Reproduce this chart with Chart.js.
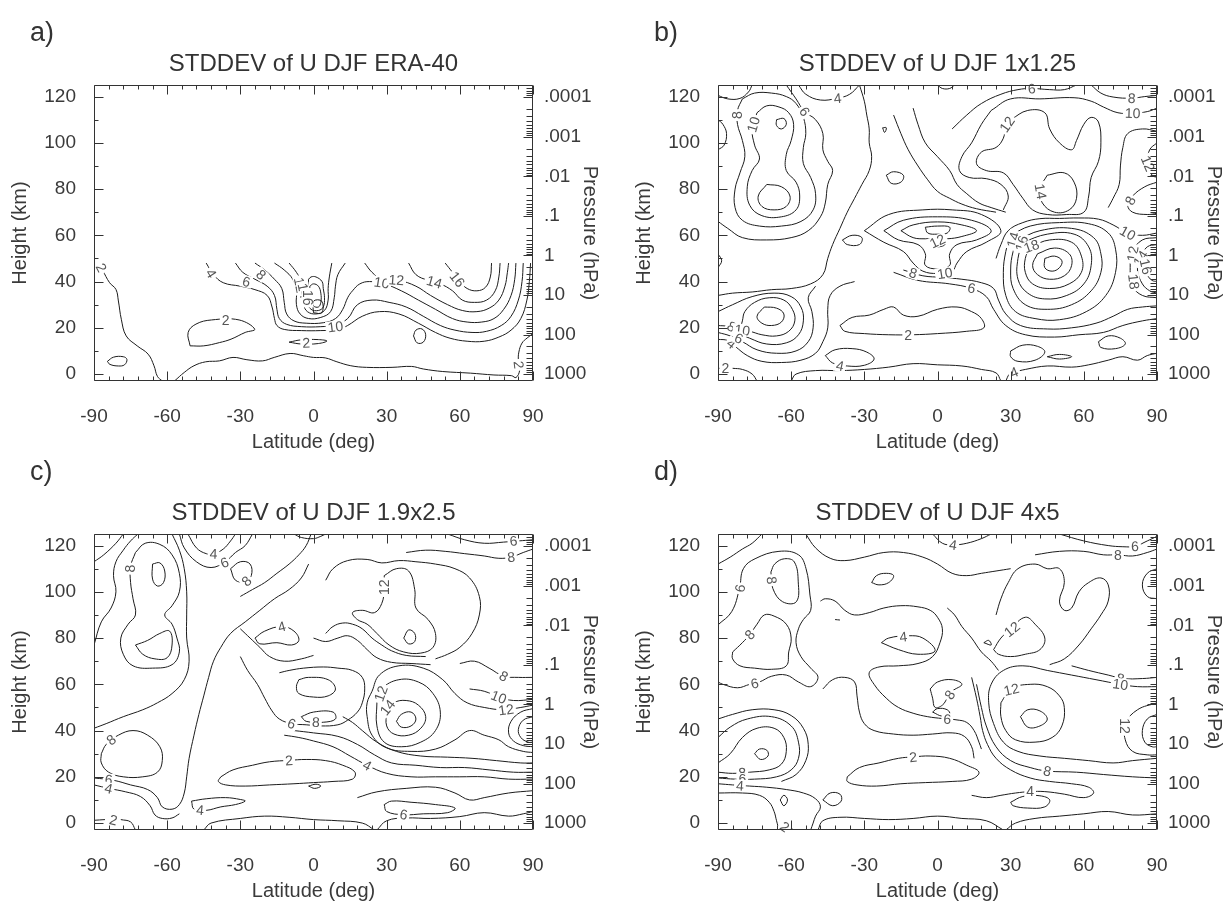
<!DOCTYPE html>
<html>
<head>
<meta charset="utf-8">
<script src="https://cdn.jsdelivr.net/npm/chart.js@4.4.1/dist/chart.umd.min.js"></script>
<style>
  body { margin: 0; background: #fff; width: 1228px; height: 901px; position: relative; overflow: hidden;
         font-family: "Liberation Sans", Arial, sans-serif; color: #333; }
  .panel { position: absolute; width: 604px; height: 458px; }
  .panel canvas { position: absolute; left: 0; top: 0; }
  .tag { position: absolute; left: 30px; top: 17px; font-size: 27px; line-height: 30px; }
  .low .tag { top: 7px; }
  .ttl { position: absolute; left: 94px; width: 439px; top: 49px; font-size: 24px; line-height: 28px; text-align: center; }
</style>
</head>
<body>
<div id="pa" class="panel" style="left:0;top:0"><canvas id="ca" width="604" height="458"></canvas></div>
<div id="pb" class="panel" style="left:624px;top:0"><canvas id="cb" width="604" height="458"></canvas></div>
<div id="pc" class="panel low" style="left:0;top:449px"><canvas id="cc" width="604" height="458"></canvas></div>
<div id="pd" class="panel low" style="left:624px;top:449px"><canvas id="cd" width="604" height="458"></canvas></div>
<script>
// Axis values
const latTicks = [-90, -60, -30, 0, 30, 60, 90];
const heightTicks = [0, 20, 40, 60, 80, 100, 120];
const pressureLevels = [1000, 100, 10, 1, 0.1, 0.01, 0.001, 0.0001];
const pressureLabels = ['1000', '100', '10', '1', '.1', '.01', '.001', '.0001'];
const panelTags = ['a)', 'b)', 'c)', 'd)'];
const panelTitles = ['STDDEV of U DJF ERA-40', 'STDDEV of U DJF 1x1.25', 'STDDEV of U DJF 1.9x2.5', 'STDDEV of U DJF 4x5'];

// Contour lines, flat [lat, km, lat, km, ...]
const aLines = [
  [-88,48, -86.5,45, -83.6,39.5, -81,36.6, -80,31.6, -78.8,23.7, -76.8,16.5, -72.3,12.2, -67.8,8.6, -65.4,3.6, -64,-1, -62,-3],
  [-57,-3, -53,0.7, -49,3.6, -44.2,5.3, -38.6,5.7, -33,7.2, -27.3,6.2, -20.9,5.7, -16.1,7.2, -9.6,8.9, -4,7.9, 0,7.2, 4.8,7, 9.6,5.3, 15.3,3.6, 21.7,2.9, 32.2,2.9, 40.2,3.3, 45,2.2, 53,1.1, 64.3,0.4, 74,-0.4, 81.2,-0.7, 83,-1.5, 84.5,1.5, 84,6, 84.2,9.5, 85.5,13.4, 87.6,15.6, 90,17.5],
  [-84.5,5.5, -82,7.3, -78,7.5, -76.5,6.3, -77.5,4, -80,3.5, -83.5,4.2, -84.5,5.5],
  [-50.6,12.2, -51.4,18, -48.2,21.6, -41.8,23.4, -30.5,23.4, -24.1,19.4, -28,18, -33.8,15.1, -38.6,13.6, -45,12.2, -50.6,12.2],
  [-10,13.8, -5,14.8, 2,14.9, 5.5,14.3, 2,13.2, -5,13, -10,13.8],
  [41,16.5, 42,19, 44.5,19.5, 46,17, 45,13.8, 42.5,13.5, 41,16.5],
  [-44,48, -41,43, -37,39.5, -30,38, -24,36.5, -19,34, -17,29, -16,24, -15,21, -12,19.3, -5,18.8, 3,18.8, 10,19.3, 14,21, 20,25, 27,27, 35,26, 43,22, 50,18, 56,15.5, 63,14.2, 70,14.2, 76,16, 81,19, 85,24, 87.5,32, 88.5,40, 89,48],
  [-32,48, -29,44, -24,41, -19,38, -16,34, -15,28, -14,24, -11,21.5, -5,20.5, 3,20.5, 9,21.3, 14,24, 18,30, 24,32, 31,31, 38,29, 45,25, 52,21, 58,19, 65,18, 71,18.5, 77,21, 81,25, 84,32, 85.5,40, 86,48],
  [-24,48, -20,45, -16,41, -13,37, -12,31, -11,26, -8,23, -3,22, 4,22.2, 9,24, 12,28, 14,33, 16,36, 19,39, 23,40, 29,39, 36,36, 43,32, 50,28, 57,24, 63,22.5, 69,22.5, 74,24, 78,28, 81,34, 82.5,41, 83,48],
  [21,48, 24,44, 28,41, 35,40.5, 42,38, 48,34, 55,30, 61,27.5, 67,27, 72,28.5, 76,32, 78.5,38, 79.5,44, 80,48],
  [39,48, 42,43, 47,40.5, 52,39, 57,36, 61,32, 66,31, 71,32, 74.5,36, 76,42, 76.5,48],
  [54,48, 57,44, 60,40, 63,37, 67,36, 70.5,37.5, 72.5,42, 73,48],
  [-16,48, -12,45, -8.5,41, -7,36, -7,30, -5.5,26, -2,24, 3,24.5, 7,27, 8.5,33, 9,38, 10,43, 13,48],
  [-10,48, -7,44, -5,40, -4,35, -4,30, -2.5,27, 1,26, 4.5,27.5, 6,32, 6,37, 6.5,42, 7.5,48],
  [-2,41, -2.5,36, -2.5,31, -1,28, 2,27.5, 4,29, 4.5,33, 4,37, 3.5,40, 1,42, -1,42, -2,41],
  [-1.5,38, -1.5,33, 0,29.5, 2,29, 3,31, 3,35, 2,38, 0,39, -1.5,38],
  [0,26.5, 3.4,26.5, 3.4,31.5, 0,31.5, 0,26.5]
];
const aLabels = [
  [-87,46,'2'], [-42,43.5,'4'], [-27.5,40,'6'], [-21.5,43,'8'], [-5.5,38.5,'12'], [-4,36,'14'],
  [-2.5,33,'16'], [9,20.5,'10'], [-3,13.5,'2'], [-36,23.4,'2'], [28,39.5,'10'], [34,40.7,'12'],
  [49.5,39.8,'14'], [59,41,'16'], [84.2,4,'2']
];

const bLines = [
  [-90,120.5, -86,119, -81,119.2, -77.5,122, -76,125],
  [-57,125, -54,121, -48,118.5, -41,119.3, -36,121, -32,125],
  [-70,82, -64,81, -60.5,77, -62,72.5, -67,71, -72,72.5, -73.5,77, -70,82],
  [-66,110, -63,110.5, -62,108, -64,106, -66,107.5, -66,110],
  [-74,113, -76,106, -75,99, -73,93, -76,88, -78,81, -77,73, -72,68.5, -64,68, -58,71, -56.5,77, -58,83, -62,88, -62,95, -60,101, -59,108, -61,113, -65,115.5, -70,116, -74,113],
  [-80,119, -75,121.5, -68,121.5, -62,120, -58,117, -55,111, -54,104, -55,98, -55,91, -52,85, -50,78, -51,71, -56,66, -64,64, -73,64, -80,66.5, -83,72, -83,80, -81,87, -79,94, -80,101, -82,108, -82,114, -80,119],
  [-62,125, -58,119, -54.5,113.5, -50,110, -47,104, -47,97, -45,92, -43,88, -45,82, -46,74, -48,68, -53,62, -60,59, -70,58, -80,59, -86,63, -90,66],
  [-90,97, -87.5,99, -86.5,104, -88,108, -90,110],
  [-32,125, -30,118, -29,112, -28,106, -28,100, -27,94, -28,88, -31,82, -34,76, -37,70, -40,63, -43,56, -45,50, -47,43, -52,39, -60,37, -68,36.5, -76,35.5, -84,35, -90,34],
  [-71,29, -66,28.5, -63,26, -64,22.5, -68,21, -72,22, -74,25, -71,29],
  [-81,19, -77,18.5, -72,17, -66,16.5, -61,18.5, -58.5,23, -59.5,28, -63,32, -69,33, -75,31, -79,27, -80,23, -81,19],
  [-90,21, -86,20.5, -82,18, -77,15.5, -70,13, -62,13.5, -57,17, -55,23, -56,29, -60,33.5, -67,35, -76,33.5, -84,30, -90,27],
  [-90,18, -85,16.5, -80,14, -74,10.5, -66,9, -58,10, -53,14, -51,20, -51.5,27, -53,33, -50,38],
  [-90,15, -86,14.5, -83,12, -78,8, -72,5.5, -64,5, -56,6, -50,9, -47,14, -45,20, -45,28, -44,34, -40,38, -34,40],
  [-90,2.5, -88,2.5],
  [-84,2.5, -80,2, -76,0, -74,-3],
  [-40,21, -35,24.5, -28,25.5, -22,28, -18,29, -14,25.5, -8,25, 0,28, 8,29, 14,27, 18,24, 19,20, 12,18.5, 0,17.5, -10,17, -20,17, -30,17.5, -38,18.5, -40,21],
  [-46,8, -42,10.5, -35,11, -29,9.5, -26,6.5, -30,3.8, -37,3.5, -43,4.8, -46,8],
  [-60,-3, -58,0, -50,1.5, -40,1.5, -30,2, -20,3, -10,4.5, 0,4, 10,3.5, 18,2, 24,0.5, 26,-3],
  [28,-3, 29.5,0, 31.4,0.8, 36,2, 45,3.5, 55,3, 62,4, 70,6, 76,7.5, 82,6, 86,8, 90,9],
  [30,10, 35,12.5, 41,12, 44,9.5, 40,6, 33,5.5, 30,7.5, 30,10],
  [45,7.5, 50,8.5, 55,7.5, 50,6.5, 45,7.5],
  [66,14, 70,16.5, 75,15.5, 77,13, 73,11, 67,11.5, 66,14],
  [44,50, 48,51, 51,49, 50,46, 47,44.5, 44,46, 44,50],
  [41,52, 48,54.5, 54,52, 55,47, 52,42.5, 46,41, 41,43, 39,47, 41,52],
  [38,55, 46,58, 55,57, 59,51, 59,44, 54,39, 46,37, 39,39, 36,44, 36,50, 38,55],
  [35,57, 45,60.5, 56,60.5, 62,55, 63,47, 60,39, 53,34, 44,32.5, 37,35, 33,41, 33,50, 35,57],
  [33,58, 42,62, 55,63, 64,59, 67,52, 67,44, 63,36, 55,30, 45,28, 36,30, 31,37, 30,45, 31,53, 33,58],
  [30,60, 38,64, 50,65.5, 62,65, 70,61, 73,54, 73,44, 69,34, 61,27, 50,23.5, 40,24, 32,27, 28,34, 27,44, 28,53, 30,60],
  [-14,45, -6,42.5, 2,41.8, 10,41, 18,39.5, 23,37, 25,32, 28,26, 34,21, 45,19.5, 55,20, 65,22, 72,25, 78,28, 84,29, 90,29.5],
  [-18,44, -8,40.5, 5,39, 14,37, 20,33.5, 23,28, 28,21, 36,17, 48,16, 58,17, 68,18, 76,21, 84,23, 90,24],
  [24,50, 26,56, 29,62, 35,65.5, 42,67.2, 50,67.3, 58,67.5, 66,67, 72,64.5, 78,61, 84,60, 90,61],
  [90,52, 87,51, 85,47.5, 86,43, 88,40.5, 90,40],
  [90,56, 86,55, 83,50, 82,45, 84,39, 87,36, 90,35],
  [90,59, 84,58, 80,53, 79,46, 80,38, 84,34, 90,33],
  [45,86, 42,80, 43,74, 48,70, 54,71, 57,76, 56,83, 52,87, 45,86],
  [30,110, 37,114, 44,113, 46,106, 50,100, 55,97, 57,101, 60,108, 63,111, 66,109, 67,100, 66,92, 63,85, 62,77, 60,70, 53,69, 45,69, 39,71, 35,76, 31,82, 27,87, 20,88, 16,91, 18,96, 24,98, 27,102, 28,107, 30,110],
  [22,114, 30,119, 42,119, 56,119.5, 63,118, 68,115.5, 74,113, 80,112.8, 86,113.5, 90,115],
  [22,114, 18,108, 14,100, 10,94, 9,88, 13,85, 20,84.5, 26,82, 29,77, 27,71],
  [90,105, 84,106, 78,104, 76,98, 75,90, 74.5,82, 72,76, 70,72],
  [90,100, 87,97, 86,91, 88,86, 90,85],
  [90,83, 85,81, 80,77, 78,73, 80,70, 86,69, 90,69.5],
  [6,106, 12,112, 18,117, 26,121, 33,123, 38.6,123.5, 46,123, 52,123, 57,125],
  [63,125, 67,121.5, 72,119.8, 79.6,119.3, 85,120, 90,120.5],
  [-5,63.5, 0,64, 5,63.5, 4,61, 0,60.5, -4,61, -5,63.5],
  [-3,56, 0,57.5, 3,56, 0,55, -3,56],
  [-15,62, -10,64.5, 0,65.8, 10,64.5, 16,62, 10,59.5, 4,58.5, 0,58.8, -5,58.5, -10,59, -15,62],
  [-22,62, -14,66.5, 0,68, 14,66.5, 22,62, 16,58, 8,56, 5,52, 5,47, 0,45.5, -5,47, -5,52, -8,56, -16,58, -22,62],
  [-30,62, -20,69, -6,71, 6,71, 18,69, 26,62, 20,57, 12,53, 8,48, 6,44.5, 0,43.5, -6,44.5, -10,48, -14,53, -22,57, -30,62],
  [0,125, 2,123.5, 5,123.5, 7,125],
  [-21,86, -18,87.5, -14,86, -15,83, -19,82.5, -21,86],
  [-39,58, -35,60, -31,59, -32,56, -37,56, -39,58],
  [-22.5,106.5, -21,106.5, -21.7,104.5, -22.5,106.5],
  [-10,115, -8,108, -5,100, 0,94, 5,88, 8,82, 12,78, 17,74, 22,72, 28,70],
  [-18,112, -15,104, -12,97, -8,90, -4,84, 0,79, 5,76, 10,73.5, 16,71.5, 24,70],
  [-90,52, -88.5,49, -90,46]
];
const bLabels = [
  [-87,2.5,'2'], [-84.4,20.5,'8'], [-80,19,'10'], [-84.4,13.2,'4'], [-81.5,15.5,'6'],
  [-41,119.3,'4'], [-54.5,113.5,'6'], [-82,112,'8'], [-75.5,108,'10'], [-12,17,'2'], [-40,3.6,'4'],
  [0,57.5,'12'], [-10,43.7,'8'], [3,43.6,'10'], [14,37.2,'6'], [31,58,'14'], [34.5,56.5,'16'], [38.5,55.3,'18'],
  [28.5,108,'12'], [42.3,79,'14'], [38.6,123.5,'6'], [79.6,119.3,'8'], [80,112.8,'10'], [86.3,91,'12'],
  [79,75,'8'], [78,61,'10'], [80,52,'12'], [83.3,50,'14'], [85.5,46.5,'16'], [80.5,40,'18'], [31.4,0.8,'4']
];

const cLines = [
  [-90,113, -86,116, -81,121, -78,125],
  [-66,112, -63,112.5, -61,109, -61.5,104, -64,102.5, -66,105.5, -66,112],
  [-73,77, -68,79, -63,82, -59,83, -58,77, -60,71.5, -65,71, -70,73, -73,77],
  [-73,117, -69,121, -63,120.5, -58,116, -55,108, -55,100, -58,94, -61,90, -58,86, -56,80, -55,74, -58,68.5, -66,67, -74,68, -78,73, -79,80, -76,86, -73,90, -74,97, -75,104, -75,111, -73,117],
  [-90,77, -87,87, -83,93, -81,100, -82,107, -81,113, -78,118, -75,122, -72,125],
  [-58,125, -55,118, -53,110, -52,100, -52,90, -52,80, -51,70, -53,62, -58,56, -64,52, -70,49, -78,46, -85,43, -90,41],
  [-55,125, -53,119, -48,113, -42,110.5, -36.2,113, -32,117, -28,120, -25,125],
  [-51.5,125, -48,119, -44,116.5, -41,116.4, -37,118.5, -34,122, -32,125],
  [-34,110, -30,113, -26,112, -25.5,107, -28,104.5, -32,105, -34,110],
  [-30,98, -25,101, -20,104, -15,108, -10,112, -6,116, -3,120, -1,125],
  [-2,112, -5,106, -10,101, -16,97, -22,92, -28,87, -34,82, -38,76, -41,70, -43,63, -45,55, -47,47, -49,38, -51,28, -52,20, -53,13, -55,8, -58,6, -62,7, -64,11, -68,14.5, -75,16.5, -82,18.5, -90,19.5],
  [-90,16.5, -84,15, -77,13.5, -71,11.5, -67,7.5, -65,3.5, -62,2, -58,2.2, -55,4],
  [-87,30, -85,34, -80,38, -74,40, -68,38, -63,33, -62,27, -64,22, -70,20, -78,20, -84,22, -87,26, -87,30],
  [-90,1.2, -85.5,1.5],
  [-79,1.5, -75,0.5, -73,-3],
  [-38,20, -33,23, -25,25, -18,26.5, -10,27.1, -3,27.5, 5,27, 12,25, 17,22, 16,19, 8,18, 0,17.5, -8,17, -18,16.5, -28,16, -36,16.5, -39,18, -38,20],
  [-2,16, 1,16.8, 3,16, 0.5,15, -2,16],
  [-50,9.5, -44,10.5, -36,11, -30,10.2, -28,9.5, -32,8, -38,7, -44,5.5, -49,6, -50,9.5],
  [-45,-3, -42,0, -30,2, -20,3, -10,2.5, 0,1.5, 10,1, 20,0, 25,-3],
  [29,8, 32,9.5, 40,9, 50,8, 58,6.5, 55,4.5, 45,4, 37,3.6, 30,5, 29,8],
  [26,-3, 30,1, 38,2.2, 48,2, 60,2.8, 70,4.5, 80,3, 86,4, 90,5],
  [18,11, 26,13.5, 38,15, 50,15.5, 58,13, 64,10, 70,11, 80,13, 90,14],
  [-12,38, -6,37, 0,35.5, 8,33, 15,29, 22,25, 30,21.5, 40,20, 50,20, 60,20, 70,20, 80,19, 90,19],
  [-8,40, 0,39, 10,37.5, 18,34, 25,29.5, 32,26, 42,25, 52,24, 62,24, 72,23, 82,22, 90,22],
  [12,46, 16,43.5, 20,40, 26,35, 34,31, 44,29, 55,28.5, 65,28, 75,27, 85,26, 90,26],
  [34,44, 36,47, 40,48, 42,45, 40,42, 36,41.5, 34,44],
  [30,48, 33,52, 38,53, 43,51, 46,46, 44,41, 39,38, 33,38.5, 30,42, 30,48],
  [26,52, 28,58, 35,62, 43,61, 49,56, 52,48, 50,40, 44,35, 36,33, 29,35, 26,42, 26,52],
  [90,30.5, 86,31, 80,33, 76,36, 70,38, 64,40, 58,36, 50,32, 40,31, 30,32.5, 24,38, 22,46, 22,52, 24,57, 27,64, 35,68, 45,67, 53,62, 58,56, 63,52, 70,50, 78,49, 85,50, 90,51],
  [90,46, 86,44.5, 84,40.5, 85,37, 88,35, 90,35],
  [90,49.5, 85,48, 81,44, 80,39, 82,35.5, 86,33.5, 90,33],
  [60,69, 66,70, 72,67, 78,63.5, 84,63, 90,63],
  [64,58, 70,57, 76,54.5, 82,53, 90,53.5],
  [29,107, 34,110, 39,109, 41.5,101, 42,93, 47,88, 50,82, 49,76, 44,73.5, 37,74, 31,77, 26,82, 22,86, 18,88, 16,91, 20,92, 25,91, 28,95, 29,101, 29,107],
  [37,80, 39,83.5, 41.5,82, 41.5,78.5, 39,77.5, 37,80],
  [5,105, 8,110, 14,113.5, 22,114, 28,112.5, 35,113.5, 42,113, 50,112, 58,110, 64,106, 68,98, 68,90, 65,82, 60,76, 55,73, 50,71],
  [5,82, 8,85, 12,86.5, 16,86, 20,84, 24,80, 28,77, 32,74.5, 38,72.5, 46,72],
  [0,80, 5,78.5, 10,80, 14,81, 18,79, 22,75, 26,71.5, 32,69.5, 40,69, 48,68.5],
  [55,125, 62,122.5, 70,121, 78,121.5, 84,122, 90,122.5],
  [38,117, 46,118, 54,117.5, 62,116.5, 70,115.5, 76,114.5, 81,115, 86,117, 90,118.5],
  [-8,125, -5,123.5, 0,123, 3,124, 5,125],
  [-24,80, -20,83, -13,85, -8,83, -6,79, -9,77, -15,78, -22,77.5, -24,80],
  [-6,62, -2,63, 6,62, 9,58, 6,55, 0,54.5, -6,56, -7,59, -6,62],
  [-5,46, 0,48, 8,48, 9,45, 4,43.6, -3,44, -5,46],
  [-30,72, -27,66, -23,60, -20,54, -17,48.5, -14,45, -9,43, -3,42.5, 3,42, 10,42.5, 14,44.5, 18,48, 20,52, 21,58, 20,63, 16,66, 10,67, 4,67.5, -4,67, -10,66, -14,65],
  [-30,84, -26,80, -22,76, -18,72, -12,70, -5,71, 0,72.5]
];
const cLabels = [
  [-82,1.4,'2'], [-46.5,5.6,'4'], [-10,27.1,'2'], [-84,18.8,'6'], [-84,15,'4'], [-83,36,'8'],
  [-75.2,110,'8'], [-41,116.4,'4'], [-36.5,112.7,'6'], [-27.5,104.7,'8'], [-13,85,'4'], [-9,43,'6'],
  [1,43.7,'8'], [22,25,'4'], [37,3.7,'6'], [27.6,56,'12'], [30.3,50,'14'], [29,102,'12'],
  [78,63.5,'8'], [76,54.5,'10'], [79,49,'12'], [82,122,'6'], [81,115,'8']
];

const dLines = [
  [-90,112, -85,115, -80,118.5, -76,121, -72,125],
  [-68.3,108.6, -67.5,101.4, -63.5,95.7, -57.9,95.7, -57.1,104.3, -58.7,112.9, -62.7,114.3, -66.7,112.1, -68.3,108.6],
  [-90,85.7, -84.4,91.4, -81.2,101.4, -79.6,110, -74.8,114.3, -65,117.5, -57,116, -53.9,110, -52.3,98.6, -52,92, -55,88, -57,84, -58,78, -56,72, -52,67, -49,63, -52,59, -57,61, -62,64, -68,63.5, -73,61, -77,60, -82,58.5, -88,60, -90,61],
  [-84,74, -80,78, -77,81.5, -74,86, -71,90, -67,89.5, -62,86, -60,80, -61,74, -62,68, -68,66.5, -75,67, -81,68, -84,71, -84,74],
  [-75,30, -73,32, -70,31.5, -69.5,29, -72.5,27.5, -75,30],
  [-90,26, -85,30, -80,37, -74,41, -67,41, -63,37, -62,31, -64,25.5, -69,23, -77,22, -84,21.5, -90,22],
  [-90,37, -85,41.5, -78,45, -68,46, -60,42, -57,35, -57,28, -60,23, -66,20, -75,19, -83,19, -90,19.5],
  [-90,17, -84,16.5, -77,16, -70,15.5, -62,14.5, -55,13, -50,10.5, -48,7, -50,3, -51,0, -52,-3],
  [-90,45, -84,47, -76,49, -67,49, -60,46.5, -55,41, -53,34, -54,27, -58,21, -64,18],
  [-90,13, -80,13, -73,12, -69,9, -67,5, -66,1, -65,-3],
  [-64.5,10, -63,12, -61.5,10, -63,7.5, -64.5,10],
  [-66,-3, -64.3,-1.5],
  [-61,-1.5, -59,-3],
  [-47,10, -44,13, -40,12.5, -39.5,9.5, -43,7.5, -47,10],
  [-49,-3, -47,1, -40,2.5, -30,2, -20,1.5, -10,2, 0,3, 10,2, 20,1, 27,-3],
  [-37,20, -32,24, -24,26, -16,28, -10,28.6, -3,29, 5,28, 12,25, 17,22, 14,19, 6,18, -5,17.5, -15,17, -25,16, -33,16.5, -37,18, -37,20],
  [-2,125, 2,121, 6.4,120.3, 12,121, 18,123, 22,125],
  [-54,125, -50,119, -44,114.5, -38,113.5, -30,115, -22,117, -14,117, -6,115, 0,112, 6,108, 12,107, 18,108, 24,109, 30,110],
  [-27,104, -25,107, -21,108, -18,107, -20,104, -24,103, -27,104],
  [-42,88, -40,87.8],
  [-23,78, -20,80, -12,81, -6,80, -1,74.5, -8,73, -16,75, -23,78],
  [-48,96, -46,97, -42,96, -38,92, -34,90, -28,91, -22,93, -15,94, -8,93.5, -3,92, 0,89, 2,84, 1,78, -2,72, -8,69, -16,68, -24,67.5, -28,65, -26,60, -21,54, -16,50, -10,47.5, -4,46, 2,45.2, 8,44.6, 12,43.5, 15,40, 17,35, 18,32],
  [-47,58, -43,62, -38,63, -34,61, -33,55, -32,48, -30,43, -26,40, -18,38.5, -10,38, -2,38.5, 6,39, 11,37.5, 14,33, 15,28],
  [-3,58, 0,61, 6,62, 10,60, 6,57, 4,54, 2,51, -1,50, -2,54, -3,58],
  [-2,48, 0,49.5, 4,49, 5,47, 2,46.2, -2,48],
  [34,46, 37,49, 42,48.5, 45,45, 42,42, 37,41.5, 34,46],
  [26,52, 30,58, 38,60, 45,59, 50,55, 52,50, 51,42, 47,37, 40,35, 32,36, 28,40, 26,46, 26,52],
  [90,59, 82,59, 75,60, 65,62, 55,64, 45,66, 35,68, 27,66, 22,60, 21,52, 23,43, 27,35, 33,31, 42,29, 52,28, 62,27, 72,26, 80,27, 90,28],
  [16,60, 18,50, 20,42, 24,33, 30,27, 38,24, 45,22.5, 57,22, 68,21, 80,20, 90,19.5],
  [14,63, 16,54, 17.5,46, 18.5,40, 20.5,34, 24,28, 30,23, 38,19.5, 46,18, 55,17, 62,15.5, 64,13, 60,11, 52,12.5, 44,13.6, 38,13.6, 32,13, 26,12, 20,11, 14,12],
  [30,9, 35,11.5, 42,11.8, 46,10, 44,7, 37,6.5, 31,7.5, 30,9],
  [28,-3, 32,0, 40,2, 50,3, 60,4, 70,5, 80,3.5, 90,4],
  [90,47, 86,45, 84,40, 85,35, 88,33, 90,33],
  [90,52, 82,49, 77,43, 77,36, 80,31, 86,29.5, 90,29.5],
  [55,68, 62,66, 70,64, 76,62.5, 84,62.5, 90,63],
  [23,75, 26,80, 30,84, 36,89, 40,86, 44,80, 42,75, 36,73, 30,72, 25,73, 23,75],
  [19,78, 21,79, 22,77, 19,78],
  [24,90, 26,97, 29,104, 33,110, 40,112, 45,110, 50,110, 52,104, 50,96, 52,92, 55,93, 58,100, 62,104, 67,106, 70,103, 70,96, 67,90, 63,84, 58,77, 52,71, 46,68.5],
  [4,93, 7,90, 10,85, 14,80, 18,74, 22,70, 25,66],
  [50,125, 60,122, 70,120, 76,119.5, 81,119.7, 86,122, 90,124],
  [40,116, 50,117.5, 60,117.5, 68,116, 74,116, 80,115.5, 86,117, 90,118.5],
  [90,110, 86,108, 84,103, 86,98, 90,97]
];
const dLabels = [
  [6.4,120.3,'4'], [81,119.7,'6'], [74,116,'8'], [-81,101.5,'6'], [-68,105,'8'], [-77,81.5,'8'],
  [-75,60.4,'6'], [-80,21.8,'8'], [-80,19,'6'], [-81,16.2,'4'], [-62.6,-1.6,'2'], [-14,80.6,'4'],
  [-10,28.6,'2'], [5,55.5,'8'], [4,45,'6'], [30.3,57.8,'12'], [30.5,83.8,'12'], [45,22.5,'8'],
  [38,13.6,'4'], [75,62.6,'8'], [75,60,'10'], [77,42,'12']
];

const kmPerDecade = 17.1;
const heightOfPressure = p => kmPerDecade * Math.log10(1000 / p);

const inkColor = '#1c1c1c';
const textColor = '#3a3a3a';
Chart.defaults.font.family = '"Liberation Sans", Arial, Helvetica, sans-serif';
Chart.defaults.color = textColor;

function toPoints(flat) {
  const pts = [];
  for (let i = 0; i < flat.length; i += 2) pts.push({ x: flat[i], y: flat[i + 1] });
  return pts;
}

function segDist(px, py, ax, ay, bx, by) {
  const dx = bx - ax, dy = by - ay;
  const len = dx * dx + dy * dy;
  let t = len ? ((px - ax) * dx + (py - ay) * dy) / len : 0;
  t = Math.max(0, Math.min(1, t));
  const cx = ax + t * dx, cy = ay + t * dy;
  return Math.hypot(px - cx, py - cy);
}

// IDL-like frame with inward ticks, drawn from the chart's own scales
const frameTicks = {
  id: 'frameTicks',
  afterDraw(chart) {
    const { ctx, chartArea: a, scales } = chart;
    const L = Math.round(a.left) + 0.5, R = Math.round(a.right) - 0.5;
    const T = Math.round(a.top) + 0.5, B = Math.round(a.bottom) - 0.5;
    ctx.save();
    ctx.strokeStyle = '#333';
    ctx.lineWidth = 1;
    ctx.beginPath();
    ctx.rect(L, T, R - L, B - T);
    for (let lat = -90; lat <= 90; lat += 6) {
      const x = Math.round(scales.x.getPixelForValue(lat)) + 0.5;
      const len = lat % 30 === 0 ? 9 : 4;
      ctx.moveTo(x, B); ctx.lineTo(x, B - len);
      ctx.moveTo(x, T); ctx.lineTo(x, T + len);
    }
    for (let km = 0; km <= 120; km += 10) {
      const y = Math.round(scales.y.getPixelForValue(km)) + 0.5;
      const len = km % 20 === 0 ? 9 : 4;
      ctx.moveTo(L, y); ctx.lineTo(L + len, y);
    }
    for (let n = -5; n <= 3; n++) {
      for (let k = 1; k <= 9; k++) {
        const p = k * Math.pow(10, n);
        const z = heightOfPressure(p);
        if (z < -3 || z > 125) continue;
        const y = Math.round(scales.y.getPixelForValue(z)) + 0.5;
        const len = k === 1 ? 9 : 6;
        ctx.moveTo(R, y); ctx.lineTo(R - len, y);
      }
    }
    ctx.stroke();
    ctx.restore();
  }
};

function labelPlugin(items) {
  return {
    id: 'contourLabels',
    afterDatasetsDraw(chart) {
      const { ctx } = chart;
      const xs = chart.scales.x, ys = chart.scales.y;
      ctx.save();
      ctx.font = '14px "Liberation Sans", Arial, sans-serif';
      ctx.textAlign = 'center';
      ctx.textBaseline = 'middle';
      items.forEach(([lat, km, txt]) => {
        const px = xs.getPixelForValue(lat), py = ys.getPixelForValue(km);
        let best = Infinity, ang = 0;
        chart.data.datasets.forEach((ds, i) => {
          const pts = chart.getDatasetMeta(i).data;
          for (let j = 1; j < pts.length; j++) {
            const d = segDist(px, py, pts[j - 1].x, pts[j - 1].y, pts[j].x, pts[j].y);
            if (d < best) { best = d; ang = Math.atan2(pts[j].y - pts[j - 1].y, pts[j].x - pts[j - 1].x); }
          }
        });
        if (ang > Math.PI / 2) ang -= Math.PI;
        if (ang < -Math.PI / 2) ang += Math.PI;
        const w = ctx.measureText(txt).width;
        ctx.save();
        ctx.translate(px, py);
        ctx.rotate(ang);
        ctx.fillStyle = '#fff';
        ctx.fillRect(-w / 2 - 2, -6, w + 4, 12);
        ctx.fillStyle = '#555';
        ctx.fillText(txt, 0, 1);
        ctx.restore();
      });
      ctx.restore();
    }
  };
}

function makePanel(idx, canvasId, panelId, lines, labels) {
  const panel = document.getElementById(panelId);
  const tag = document.createElement('div');
  tag.className = 'tag';
  tag.textContent = panelTags[idx];
  panel.appendChild(tag);
  const ttl = document.createElement('div');
  ttl.className = 'ttl';
  ttl.textContent = panelTitles[idx];
  panel.appendChild(ttl);

  const ctx = document.getElementById(canvasId).getContext('2d');
  return new Chart(ctx, {
    type: 'scatter',
    data: {
      datasets: lines.map(flat => ({
        data: toPoints(flat),
        showLine: true,
        pointRadius: 0,
        pointHoverRadius: 0,
        borderColor: inkColor,
        borderWidth: 1,
        tension: 0.4,
        fill: false
      }))
    },
    options: {
      responsive: false,
      animation: false,
      devicePixelRatio: 1,
      events: [],
      layout: { padding: { top: 85, left: 0, right: 0, bottom: 0 } },
      plugins: { legend: { display: false }, tooltip: { enabled: false }, title: { display: false } },
      scales: {
        x: {
          type: 'linear', position: 'bottom', min: -90, max: 90,
          afterBuildTicks: s => { s.ticks = latTicks.map(v => ({ value: v })); },
          ticks: { font: { size: 19 }, color: textColor, padding: 16, maxRotation: 0, autoSkip: false },
          grid: { display: false }, border: { display: false },
          title: { display: true, text: 'Latitude (deg)', font: { size: 20 }, color: textColor, padding: { top: 0, bottom: 4 } },
          afterFit: s => { s.height = 77; }
        },
        y: {
          type: 'linear', position: 'left', min: -3, max: 125,
          afterBuildTicks: s => { s.ticks = heightTicks.map(v => ({ value: v })); },
          ticks: { font: { size: 19 }, color: textColor, padding: 10, autoSkip: false },
          grid: { display: false }, border: { display: false },
          title: { display: true, text: 'Height (km)', font: { size: 20 }, color: textColor, padding: { top: 8, bottom: 0 } },
          afterFit: s => { s.width = 94; }
        },
        p: {
          type: 'linear', position: 'right', min: -3, max: 125,
          afterBuildTicks: s => { s.ticks = pressureLevels.map(v => ({ value: heightOfPressure(v) })); },
          ticks: { font: { size: 19 }, color: textColor, padding: 3, autoSkip: false,
                   callback: (v, i) => pressureLabels[i] },
          grid: { display: false }, border: { display: false },
          title: { display: true, text: 'Pressure (hPa)', font: { size: 20 }, color: textColor, padding: { top: 2, bottom: 0 } },
          afterFit: s => { s.width = 71; }
        }
      }
    },
    plugins: [labelPlugin(labels), frameTicks]
  });
}

makePanel(0, 'ca', 'pa', aLines, aLabels);
makePanel(1, 'cb', 'pb', bLines, bLabels);
makePanel(2, 'cc', 'pc', cLines, cLabels);
makePanel(3, 'cd', 'pd', dLines, dLabels);
</script>
</body>
</html>
